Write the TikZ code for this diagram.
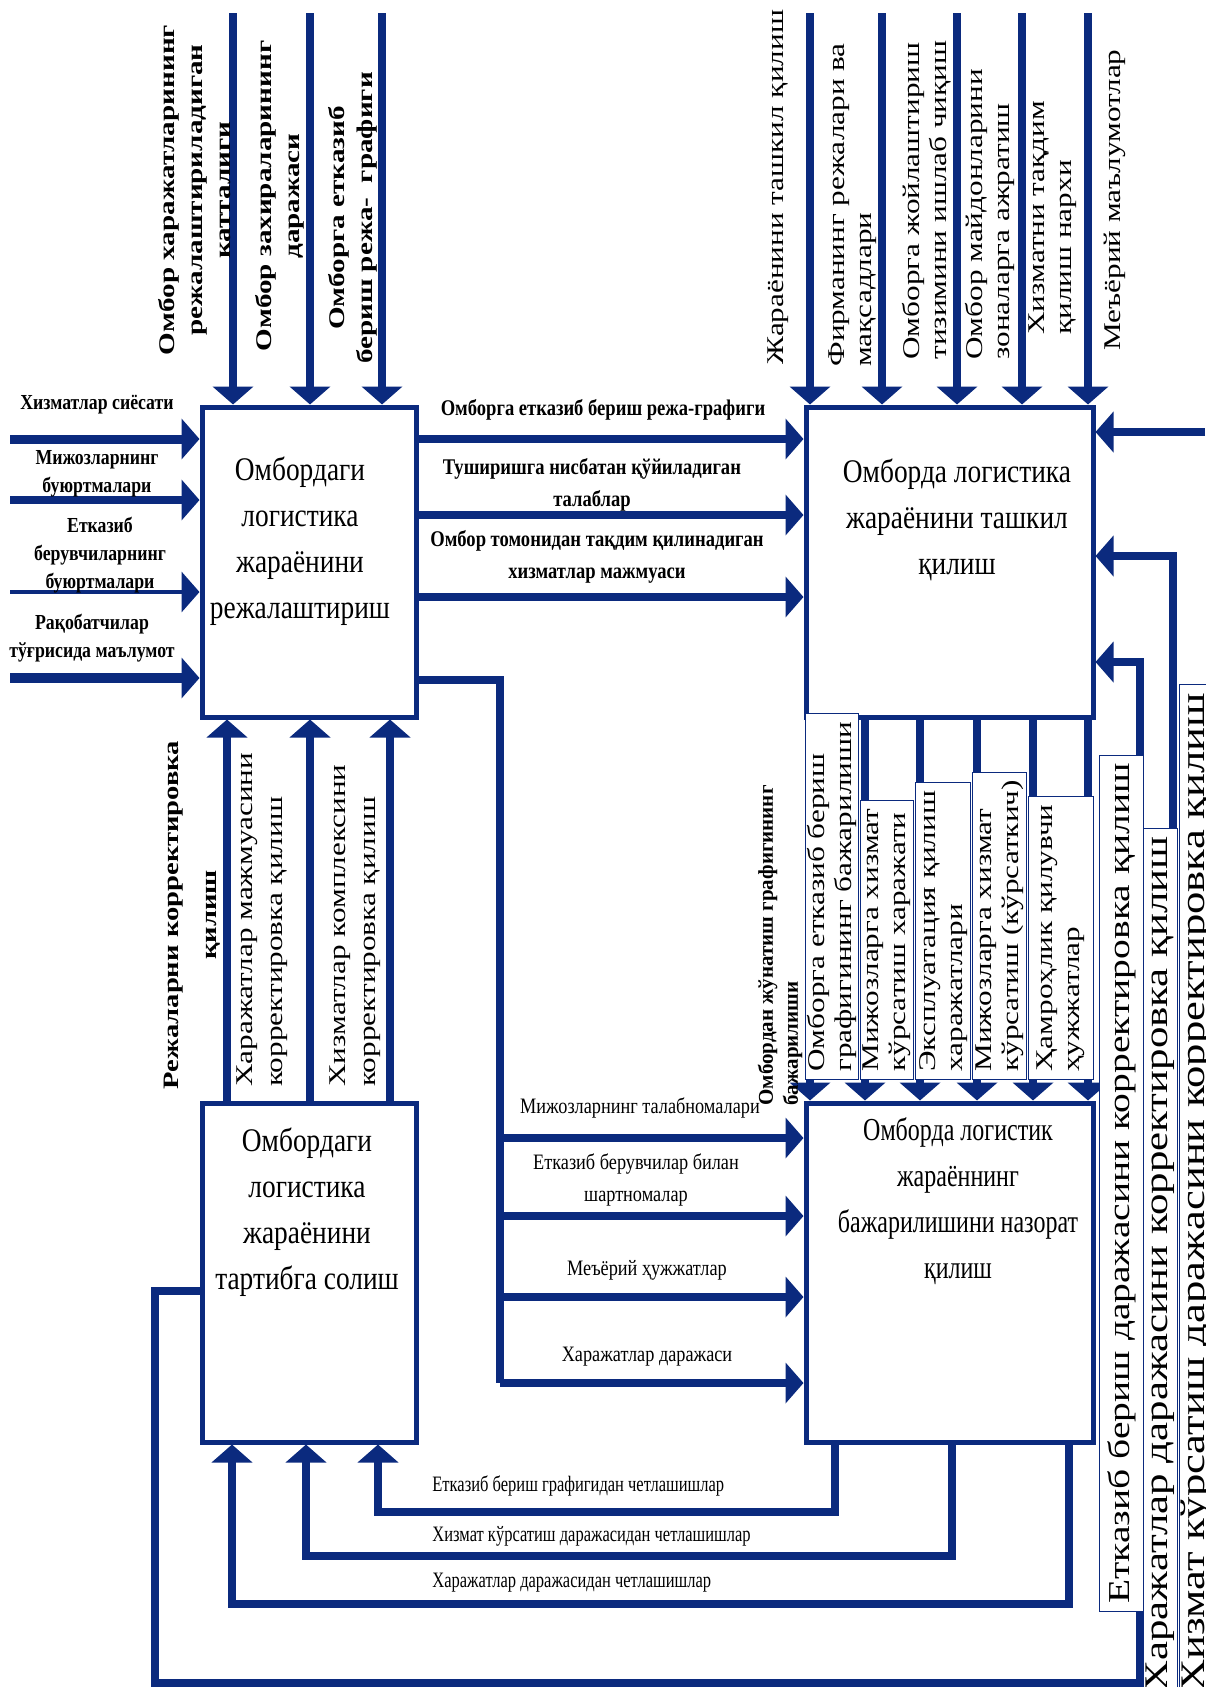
\documentclass[tikz,border=0pt]{standalone}
\usepackage{fontspec}
\setmainfont{Liberation Serif}
\newfontfamily\narrowfont[FakeStretch=0.83]{Liberation Serif}
\newfontfamily\tightfont[FakeStretch=0.75]{Liberation Serif}
\newfontfamily\widefont[FakeStretch=1.3]{Liberation Serif}
\usetikzlibrary{arrows.meta,calc}
\definecolor{dnavy}{HTML}{0B2A7E}
\tikzset{
  % process boxes
  blk/.style    = {rectangle, draw=dnavy, line width=2.5pt, fill=white, inner sep=0pt},
  boxtxt/.style = {font=\narrowfont\fontsize{16.5}{23}\selectfont, align=center, inner sep=0pt},
  % connectors
  pipe/.style   = {line width=4pt, draw=dnavy, line join=miter},
  arr/.style    = {pipe, -{Triangle[length=9pt,width=20pt]}},
  % horizontal labels
  tagb/.style   = {font=\narrowfont\bfseries\fontsize{10.7}{14}\selectfont, align=center, inner sep=0pt},
  tagab/.style  = {font=\narrowfont\bfseries\fontsize{11.2}{16}\selectfont, align=center, inner sep=0pt},
  tagm/.style   = {font=\narrowfont\fontsize{11}{16}\selectfont, align=center, inner sep=0pt},
  tagf/.style   = {font=\tightfont\fontsize{11}{14}\selectfont, anchor=west, inner sep=0pt},
  % vertical labels
  vtagb/.style  = {rotate=90, font=\widefont\bfseries\fontsize{11.2}{14}\selectfont, align=center, inner sep=0pt},
  vtag/.style   = {rotate=90, font=\widefont\fontsize{12}{13.5}\selectfont, align=left, inner sep=0pt},
  vtagl/.style  = {rotate=90, font=\widefont\fontsize{12}{15}\selectfont, align=left, inner sep=0pt},
  vbox/.style   = {rotate=90, anchor=south west, fill=white, draw=dnavy, line width=0.4pt,
                   align=left, inner xsep=4pt, inner ysep=1pt,
                   font=\widefont\fontsize{12}{13.5}\selectfont},
  rbox/.style   = {rotate=90, anchor=south west, fill=white, draw=dnavy, line width=0.4pt,
                   align=center, inner xsep=4pt, inner ysep=0.5pt},
}

\begin{document}
\begin{tikzpicture}[x=0.5pt,y=-0.5pt]
\fill[white] (0,0) rectangle (1205,1687);
\useasboundingbox (0,0) rectangle (1205,1687);
% boxes
\node[blk, minimum width=107pt, minimum height=155pt] (plan) at (309,562) {};
\node[blk, minimum width=143.5pt, minimum height=155pt] (organize) at (949.5,562) {};
\node[blk, minimum width=107pt, minimum height=169.5pt] (adjust) at (309,1272.5) {};
\node[blk, minimum width=143.5pt, minimum height=169.5pt] (monitor) at (949.5,1272.5) {};
\node[boxtxt] (plantxt) at (300,541) {Омбордаги\\логистика\\жараёнини\\режалаштириш};
\node[boxtxt] (organizetxt) at (957,520) {Омборда логистика\\жараёнини ташкил\\қилиш};
\node[boxtxt] (adjusttxt) at (307,1212) {Омбордаги\\логистика\\жараёнини\\тартибга солиш};
\node[boxtxt, font=\tightfont\fontsize{16}{23}\selectfont] (monitortxt) at (958,1201)
  {Омборда логистик\\жараённинг\\бажарилишини назорат\\қилиш};
% controls from above
\foreach \x [count=\i] in {233,310,382} {
  \coordinate (pt\i) at (\x,13);
  \draw[arr] (pt\i) -- (plan.north -| pt\i);
}
\foreach \x [count=\i] in {810,882,957,1022,1088} {
  \coordinate (ot\i) at (\x,13);
  \draw[arr] (ot\i) -- (organize.north -| ot\i);
}
\node[vtagb] (pl1) at (195,190) {Омбор харажатларининг\\режалаштириладиган\\катталиги};
\node[vtagb] (pl2) at (280,196) {Омбор захираларининг\\даражаси};
\node[vtagb] (pl3) at (353,218) {Омборга етказиб\\бериш режа-\ \ графиги};
\node[vtag, align=center] (og1) at (778,187) {Жараёнини ташкил қилиш};
\node[vtag, anchor=west] (og2) at (853,367) {Фирманинг режалари ва\\мақсадлари};
\node[vtag, anchor=west] (og3) at (927,360) {Омборга жойлаштириш\\тизимини ишлаб чиқиш};
\node[vtag, anchor=west] (og4) at (990,360) {Омбор майдонларини\\зоналарга ажратиш};
\node[vtag, anchor=west] (og5) at (1053,335) {Хизматни тақдим\\қилиш нархи};
\node[vtag, align=center] (og6) at (1115,200) {Меъёрий маълумотлар};
% inputs from the left
\foreach \y/\w [count=\i] in {439/4.5pt,500/4pt,592/2pt,678/5pt} {
  \coordinate (in\i) at (10,\y);
  \draw[arr, line width=\w] (in\i) -- (plan.west |- in\i);
}
\node[tagb] (inl1) at (97,405) {Хизматлар сиёсати};
\node[tagb] (inl2) at (97,474) {Мижозларнинг\\буюртмалари};
\node[tagb] (inl3) at (100,555) {Етказиб\\берувчиларнинг\\буюртмалари};
\node[tagb] (inl4) at (92,638) {Рақобатчилар\\тўғрисида маълумот};
% planning -> organizing
\foreach \y [count=\i] in {439,515,597} {
  \coordinate (ab\i) at (600,\y);
  \draw[arr] (plan.east |- ab\i) -- (organize.west |- ab\i);
}
\node[tagab] (abl1) at (603,410) {Омборга етказиб бериш режа-графиги};
\node[tagab] (abl2) at (592,485) {Туширишга нисбатан қўйиладиган\\талаблар};
\node[tagab] (abl3) at (597,557) {Омбор томонидан тақдим қилинадиган\\хизматлар мажмуаси};
% adjusting -> planning
\foreach \x [count=\i] in {227,310,390} {
  \coordinate (ca\i) at (\x,900);
  \draw[arr] (adjust.north -| ca\i) -- (plan.south -| ca\i);
}
\node[vtagl, align=center, font=\widefont\bfseries\fontsize{11}{15}\selectfont] (cal1) at (192,915) {Режаларни корректировка\\[4pt]қилиш};
\node[vtagl, anchor=west] (cal2) at (262,1087) {Харажатлар мажмуасини\\корректировка қилиш};
\node[vtagl, anchor=west] (cal3) at (355,1087) {Хизматлар комплексини\\корректировка қилиш};
% planning -> monitoring
\coordinate (tr) at (500,680);
\foreach \y [count=\i] in {1138,1216,1297,1383} {
  \coordinate (din\i) at (500,\y);
}
\draw[pipe] (plan.east |- tr) -- (tr) -- (din4);
\foreach \i in {1,...,4} {
  \draw[arr] (din\i) -- (monitor.west |- din\i);
}
\node[tagm] (dl1) at (640,1108) {Мижозларнинг талабномалари};
\node[tagm] (dl2) at (636,1180) {Етказиб берувчилар билан\\шартномалар};
\node[tagm] (dl3) at (647,1270) {Меъёрий ҳужжатлар};
\node[tagm] (dl4) at (647,1357) {Харажатлар даражаси};
% organizing -> monitoring
\foreach \x [count=\i] in {810,865,920,977,1033,1088} {
  \coordinate (bd\i) at (\x,900);
  \draw[arr] (organize.south -| bd\i) -- (monitor.north -| bd\i);
}
\node[vtag, anchor=west, font=\bfseries\fontsize{10.5}{12.5}\selectfont] (bdl0) at (780,1106) {Омбордан жўнатиш графигининг\\бажарилиши};
\node[vbox, minimum height=22.5pt] (bdl1) at (859,1080) {Омборга етказиб бериш\\графигининг бажарилиши};
\node[vbox, minimum height=26.5pt] (bdl2) at (914,1080) {Мижозларга хизмат\\кўрсатиш харажати};
\node[vbox, minimum height=27.5pt] (bdl3) at (971,1080) {Эксплуатация қилиш\\харажатлари};
\node[vbox, minimum height=27pt] (bdl4) at (1027,1080) {Мижозларга хизмат\\кўрсатиш (кўрсаткич)};
\node[vbox, minimum height=32.5pt] (bdl5) at (1094,1080) {Ҳамроҳлик қилувчи\\ҳужжатлар};
% deviations back to adjusting
\foreach \xa/\xb/\y [count=\i] in {835/378/1512,952/306/1556,1069/232/1604} {
  \coordinate (fa\i) at (\xa,\y);
  \coordinate (fb\i) at (\xb,\y);
  \draw[arr] (monitor.south -| fa\i) -- (fa\i) -- (fb\i) -- (adjust.south -| fb\i);
}
\node[tagf] (fl1) at (432,1486) {Етказиб бериш графигидан четлашишлар};
\node[tagf] (fl2) at (432,1536) {Хизмат кўрсатиш даражасидан четлашишлар};
\node[tagf] (fl3) at (432,1583) {Харажатлар даражасидан четлашишлар};
% corrections back to organizing
\coordinate (lpa) at (155,1291);
\coordinate (lpb) at (155,1683);
\coordinate (lpc) at (1140,1683);
\coordinate (lpd) at (1173,1683);
\coordinate (rb1) at (1205,432);
\coordinate (rb2) at (1173,556);
\coordinate (rb3) at (1140,662);
\draw[arr] (adjust.west |- lpa) -- (lpa) -- (lpb) -- (lpd) -- (rb2) -- (organize.east |- rb2);
\draw[arr] (lpc) -- (rb3) -- (organize.east |- rb3);
\draw[arr] (rb1) -- (organize.east |- rb1);
\node[rbox, minimum height=22pt, font=\widefont\fontsize{15.2}{18}\selectfont] (rl1) at (1144,1612)
  {Етказиб бериш даражасини корректировка қилиш};
\node[rbox, minimum height=17pt, font=\widefont\fontsize{16.5}{18}\selectfont] (rl2) at (1178,1700)
  {Харажатлар даражасини корректировка қилиш};
\node[rbox, minimum height=17pt, font=\widefont\fontsize{17.2}{18}\selectfont] (rl3) at (1214,1700)
  {Хизмат кўрсатиш даражасини корректировка қилиш};
\end{tikzpicture}
\end{document}
